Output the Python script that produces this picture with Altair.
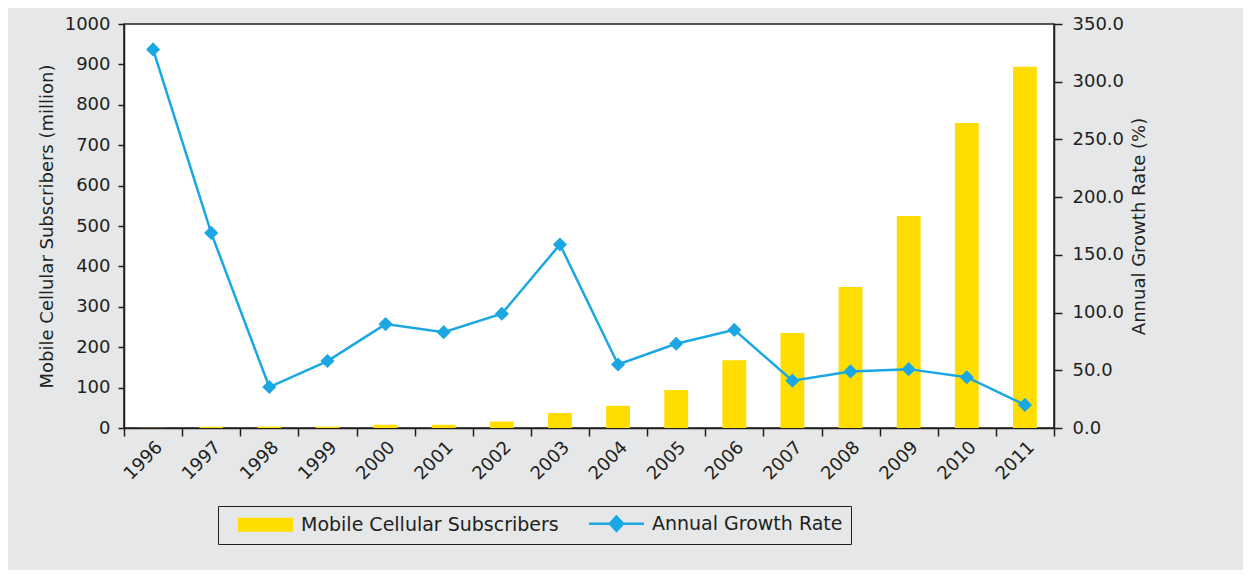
import altair as alt
import pandas as pd

years = [str(y) for y in range(1996, 2012)]
subscribers = [0.4, 3.0, 3.5, 3.5, 8.0, 8.0, 16.0, 37.0, 55.0, 94.0, 168.0, 235.0, 349.0, 525.0, 755.0, 894.0]
growth = [328.0, 169.0, 35.5, 58.0, 90.0, 83.0, 99.0, 159.0, 55.0, 73.0, 85.0, 41.0, 49.0, 51.0, 44.0, 20.0]
series = ["Mobile Cellular Subscribers", "Annual Growth Rate"]
colors = ["#ffdd00", "#1aa7e4"]
left_ticks = list(range(0, 1001, 100))
right_ticks = list(range(0, 351, 50))

df = pd.DataFrame({"year": years, "subs": subscribers, "growth": growth})

font = "DejaVu Sans"
ink = "#231f20"

bar_path = "M-1,-0.255H1V0.255H-1Z"
line_path = "M-1,0H1M-0.24,0L0,-0.26L0.24,0L0,0.26Z"
is_line = f"datum.value === '{series[1]}'"

legend = alt.Legend(
    title=None, orient="none", legendX=94, legendY=482, direction="horizontal",
    strokeColor=ink, padding=8, symbolOffset=30,
    labelFont=font, labelFontSize=19, labelColor=ink, labelOffset=26, labelLimit=400,
    symbolSize=3025, columnPadding=18,
    symbolType={"expr": f"{is_line} ? '{line_path}' : '{bar_path}'"},
    symbolFillColor={"expr": f"{is_line} ? '{colors[1]}' : '{colors[0]}'"},
    symbolStrokeColor={"expr": f"{is_line} ? '{colors[1]}' : '{colors[0]}'"},
    symbolStrokeWidth={"expr": f"{is_line} ? 2.5 : 0"},
    symbolOpacity=1,
)
color = alt.Color("series:N", scale=alt.Scale(domain=series, range=colors), legend=legend)

x = alt.X("year:N", title=None, sort=years,
          scale=alt.Scale(paddingInner=0, paddingOuter=0),
          axis=alt.Axis(labelAngle=-45, tickBand="extent", tickSize=8, labelPadding=2))

base = alt.Chart(df)

bars = base.transform_calculate(series=f"'{series[0]}'").mark_bar(
    width=alt.RelativeBandSize(0.41)
).encode(
    x=x,
    y=alt.Y("subs:Q", scale=alt.Scale(domain=[0, 1000], nice=False),
            axis=alt.Axis(values=left_ticks, orient="left", format="d",
                          title="Mobile Cellular Subscribers (million)",
                          tickSize=6, labelPadding=8, titlePadding=8)),
    color=color,
)

line = base.transform_calculate(series=f"'{series[1]}'").mark_line(
    strokeWidth=2.5,
    point=alt.OverlayMarkDef(shape="diamond", size=200, filled=True, opacity=1),
).encode(
    x=x,
    y=alt.Y("growth:Q", scale=alt.Scale(domain=[0, 350], nice=False),
            axis=alt.Axis(values=right_ticks, orient="right", format=".1f",
                          title="Annual Growth Rate (%)", titleAngle=270,
                          tickSize=8, labelPadding=10, titlePadding=25)),
    color=color,
)

chart = alt.layer(bars, line).resolve_scale(y="independent").properties(
    width=930, height=404,
    background="#e6e7e8",
    autosize=alt.AutoSizeParams(type="none"),
    padding={"left": 116, "top": 16, "right": 189, "bottom": 142},
).configure_axis(
    labelFont=font, labelFontSize=18, labelColor=ink,
    titleFont=font, titleFontSize=18, titleColor=ink, titleFontWeight="normal",
    domainColor=ink, tickColor=ink, domainWidth=1.5, tickWidth=1.5, grid=False,
).configure_view(fill="white", stroke=ink, strokeWidth=1.5)

chart.save("out.html", embed_options={"renderer": "svg", "actions": False})
